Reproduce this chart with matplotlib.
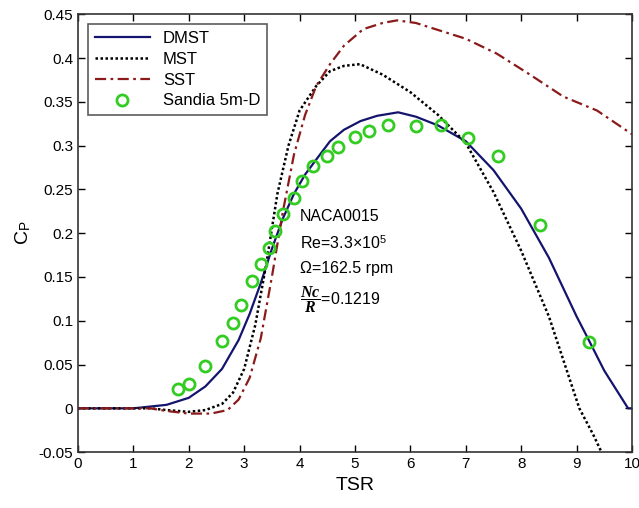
import matplotlib.pyplot as plt
import numpy as np

plt.rcParams['font.family'] = ['Liberation Sans', 'DejaVu Sans']
plt.rcParams['mathtext.fontset'] = 'custom'
plt.rcParams['mathtext.rm'] = 'Liberation Sans'
plt.rcParams['mathtext.it'] = 'Liberation Serif:italic:bold'

# DMST model
tsr_dmst = [0, 1.0, 1.3, 1.6, 2.0, 2.3, 2.6, 2.9, 3.1, 3.3, 3.5, 3.7, 3.9, 4.1, 4.3,
            4.55, 4.8, 5.1, 5.4, 5.78, 6.1, 6.5, 7.0, 7.5, 8.0, 8.5, 9.0,
            9.22, 9.5, 9.93, 10.0]
cp_dmst = [0, 0, 0.002, 0.004, 0.012, 0.025, 0.045, 0.078, 0.108, 0.143, 0.182,
           0.217, 0.245, 0.267, 0.284, 0.305, 0.318, 0.328, 0.334, 0.338, 0.333,
           0.323, 0.305, 0.272, 0.228, 0.172, 0.105, 0.078, 0.043, 0.0, 0.0]

# MST model
tsr_mst = [0, 1.3, 1.6, 2.0, 2.3, 2.6, 2.8, 3.0, 3.2, 3.4, 3.5, 3.6, 3.8, 4.0,
           4.3, 4.55, 4.8, 5.09, 5.5, 6.0, 6.5, 7.0, 7.5, 8.0, 8.5, 9.05,
           9.3, 9.45]
cp_mst = [0, 0, -0.002, -0.004, -0.002, 0.005, 0.018, 0.045, 0.095, 0.165, 0.205,
          0.245, 0.3, 0.34, 0.368, 0.385, 0.391, 0.393, 0.381, 0.361, 0.335,
          0.303, 0.247, 0.18, 0.105, 0.0, -0.03, -0.05]

# SST model
tsr_sst = [0, 1.3, 1.6, 2.0, 2.4, 2.7, 2.9, 3.1, 3.3, 3.5, 3.7, 3.9, 4.1, 4.3,
           4.55, 4.8, 5.15, 5.5, 5.76, 6.1, 6.6, 7.0, 7.56, 8.16, 8.76, 9.37, 10.0]
cp_sst = [0, 0, -0.003, -0.006, -0.006, -0.002, 0.01, 0.035, 0.08, 0.15, 0.225,
          0.29, 0.335, 0.368, 0.393, 0.414, 0.433, 0.44, 0.443, 0.44, 0.43,
          0.422, 0.405, 0.381, 0.356, 0.34, 0.313]

# Sandia 5m-D experiment
tsr_exp = [1.8, 2.0, 2.3, 2.6, 2.8, 2.95, 3.15, 3.3, 3.45, 3.55, 3.7, 3.9, 4.05,
           4.25, 4.5, 4.7, 5.0, 5.25, 5.6, 6.1, 6.55, 7.04, 7.58, 8.34, 9.22]
cp_exp = [0.022, 0.028, 0.048, 0.077, 0.098, 0.118, 0.145, 0.165, 0.183, 0.202,
          0.222, 0.24, 0.26, 0.277, 0.288, 0.298, 0.31, 0.317, 0.323, 0.322,
          0.323, 0.309, 0.288, 0.209, 0.076]

fig = plt.figure(figsize=(6.39, 5.08), dpi=100)
ax = fig.add_axes([0.122, 0.11, 0.867, 0.862])

ax.plot(tsr_dmst, cp_dmst, color='#14146e', lw=1.6, label='DMST')
ax.plot(tsr_mst, cp_mst, color='black', lw=1.8, ls=(0, (1, 1)), label='MST')
ax.plot(tsr_sst, cp_sst, color='#8b1a1a', lw=1.6, ls=(0, (5, 2, 1.2, 2)), label='SST')
ax.plot(tsr_exp, cp_exp, ls='none', marker='o', ms=8, mfc='none', mec='#33cc22',
        mew=2, label='Sandia 5m-D')

ax.set_xlim(0, 10)
ax.set_ylim(-0.05, 0.45)
ax.set_xticks(np.arange(0, 11, 1))
ax.set_yticks(np.arange(-0.05, 0.451, 0.05))
ax.set_yticklabels(['-0.05', '0', '0.05', '0.1', '0.15', '0.2', '0.25', '0.3',
                    '0.35', '0.4', '0.45'])
ax.tick_params(direction='in', top=True, right=True, labelsize=11, length=5,
               width=1)
for s in ax.spines.values():
    s.set_linewidth(1.2)
    s.set_color('#333333')

ax.set_xlabel('TSR', fontsize=14)
ax.set_ylabel(r'C$_\mathregular{P}$', fontsize=14)

leg = ax.legend(loc='upper left', fontsize=12, frameon=True, fancybox=False,
                edgecolor='#333333', borderaxespad=0.6, handlelength=3.3,
                labelspacing=0.35)
leg.get_frame().set_linewidth(1.2)

ax.text(4.0, 0.219, 'NACA0015', fontsize=11.5, va='center')
ax.text(4.0, 0.189, 'Re=3.3×10$^5$', fontsize=11.5, va='center')
ax.text(4.0, 0.16, 'Ω=162.5 rpm', fontsize=11.5, va='center')
ax.text(4.0, 0.124, r'$\dfrac{Nc}{R}$=0.1219', fontsize=11.5, va='center')

fig.savefig('out.png', dpi=100)
